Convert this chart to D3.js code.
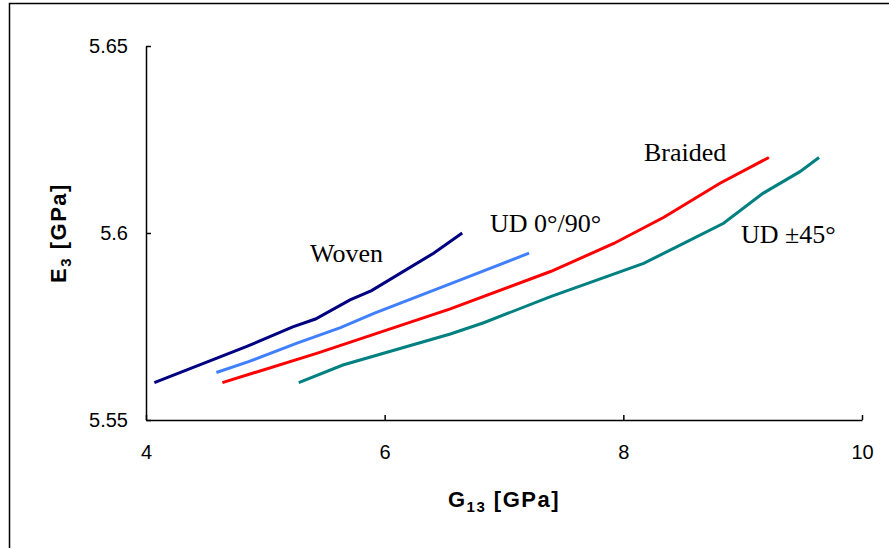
<!DOCTYPE html>
<html>
<head>
<meta charset="utf-8">
<script src="https://cdn.jsdelivr.net/npm/d3@7"></script>
<style>
  body { margin: 0; background: #fff; }
  svg { display: block; }
  .axis path, .axis line { stroke: #000; stroke-width: 1.5; }
  .axis text { font-family: Arial, "Liberation Sans", sans-serif; font-size: 20px; fill: #000; }
  .lbl { font-family: "Times New Roman", "Liberation Serif", serif; font-size: 26px; fill: #000; }
  .title { font-family: Arial, "Liberation Sans", sans-serif; font-size: 22px; font-weight: bold; fill: #000; }
</style>
</head>
<body>
<svg id="chart" width="889" height="548"></svg>
<script>
// G13 [GPa] vs E3 [GPa]
var wovenX = [4.07, 4.84, 5.23, 5.42, 5.71, 5.89, 6.41, 6.65];
var wovenY = [5.560, 5.5696, 5.5749, 5.577, 5.5821, 5.5846, 5.5946, 5.600];

var ud090X = [4.59, 4.86, 5.26, 5.63, 5.91, 6.63, 7.21];
var ud090Y = [5.5627, 5.5656, 5.5705, 5.5747, 5.5785, 5.5874, 5.5946];

var braidedX = [4.64, 5.43, 6.55, 7.39, 7.92, 8.34, 8.81, 9.22];
var braidedY = [5.560, 5.5678, 5.5797, 5.5897, 5.5972, 5.6042, 5.6133, 5.6202];

var ud45X = [5.28, 5.65, 6.55, 6.83, 7.39, 8.17, 8.48, 8.84, 9.17, 9.48, 9.64];
var ud45Y = [5.560, 5.5647, 5.573, 5.576, 5.583, 5.5919, 5.5968, 5.6026, 5.6106, 5.6164, 5.6202];

var xTicks = [4, 6, 8, 10];
var yTicks = [5.55, 5.6, 5.65];

var series = [
    {name: "Woven", xs: wovenX, ys: wovenY, color: "#000080", lx: 310, ly: 262},
    {name: "UD 0°/90°", xs: ud090X, ys: ud090Y, color: "#4080ff", lx: 490, ly: 232},
    {name: "Braided", xs: braidedX, ys: braidedY, color: "#ff0000", lx: 644, ly: 161},
    {name: "UD ±45°", xs: ud45X, ys: ud45Y, color: "#008080", lx: 741, ly: 243}
];

var svg = d3.select("#chart");

// outer frame, runs off the right and bottom edges
svg.append("rect")
    .attr("x", 9.5).attr("y", 3.5)
    .attr("width", 920).attr("height", 600)
    .attr("fill", "none")
    .attr("stroke", "#000")
    .attr("stroke-width", 1.5);

var x = d3.scaleLinear().domain([4, 10]).range([146, 862]);
var y = d3.scaleLinear().domain([5.55, 5.65]).range([420, 46]);

svg.append("g")
    .attr("class", "axis")
    .attr("transform", "translate(0,420)")
    .call(d3.axisBottom(x).tickValues(xTicks).tickFormat(d3.format("d"))
        .tickSizeInner(-5).tickSizeOuter(0).tickPadding(25));

svg.append("g")
    .attr("class", "axis")
    .attr("transform", "translate(146,0)")
    .call(d3.axisLeft(y).tickValues(yTicks).tickFormat(function (d) { return String(d); })
        .tickSizeInner(-5).tickSizeOuter(0).tickPadding(18));

var line = d3.line()
    .x(function (d) { return x(d[0]); })
    .y(function (d) { return y(d[1]); });

series.forEach(function (s) {
    var pts = s.xs.map(function (v, i) { return [v, s.ys[i]]; });
    svg.append("path")
        .datum(pts)
        .attr("d", line)
        .attr("fill", "none")
        .attr("stroke", s.color)
        .attr("stroke-width", 3);
    svg.append("text")
        .attr("class", "lbl")
        .attr("x", s.lx).attr("y", s.ly)
        .text(s.name);
});

// axis titles
var xt = svg.append("text")
    .attr("class", "title")
    .attr("x", 504).attr("y", 507)
    .attr("text-anchor", "middle")
    .style("letter-spacing", "1.5px");
xt.append("tspan").text("G");
xt.append("tspan").attr("dy", 5).style("font-size", "15px").text("13");
xt.append("tspan").attr("dy", -5).text(" [GPa]");

var yt = svg.append("text")
    .attr("class", "title")
    .attr("transform", "translate(66,233) rotate(-90)")
    .attr("text-anchor", "middle")
    .style("letter-spacing", "1.5px");
yt.append("tspan").text("E");
yt.append("tspan").attr("dy", 5).style("font-size", "15px").text("3");
yt.append("tspan").attr("dy", -5).text(" [GPa]");
</script>
</body>
</html>
